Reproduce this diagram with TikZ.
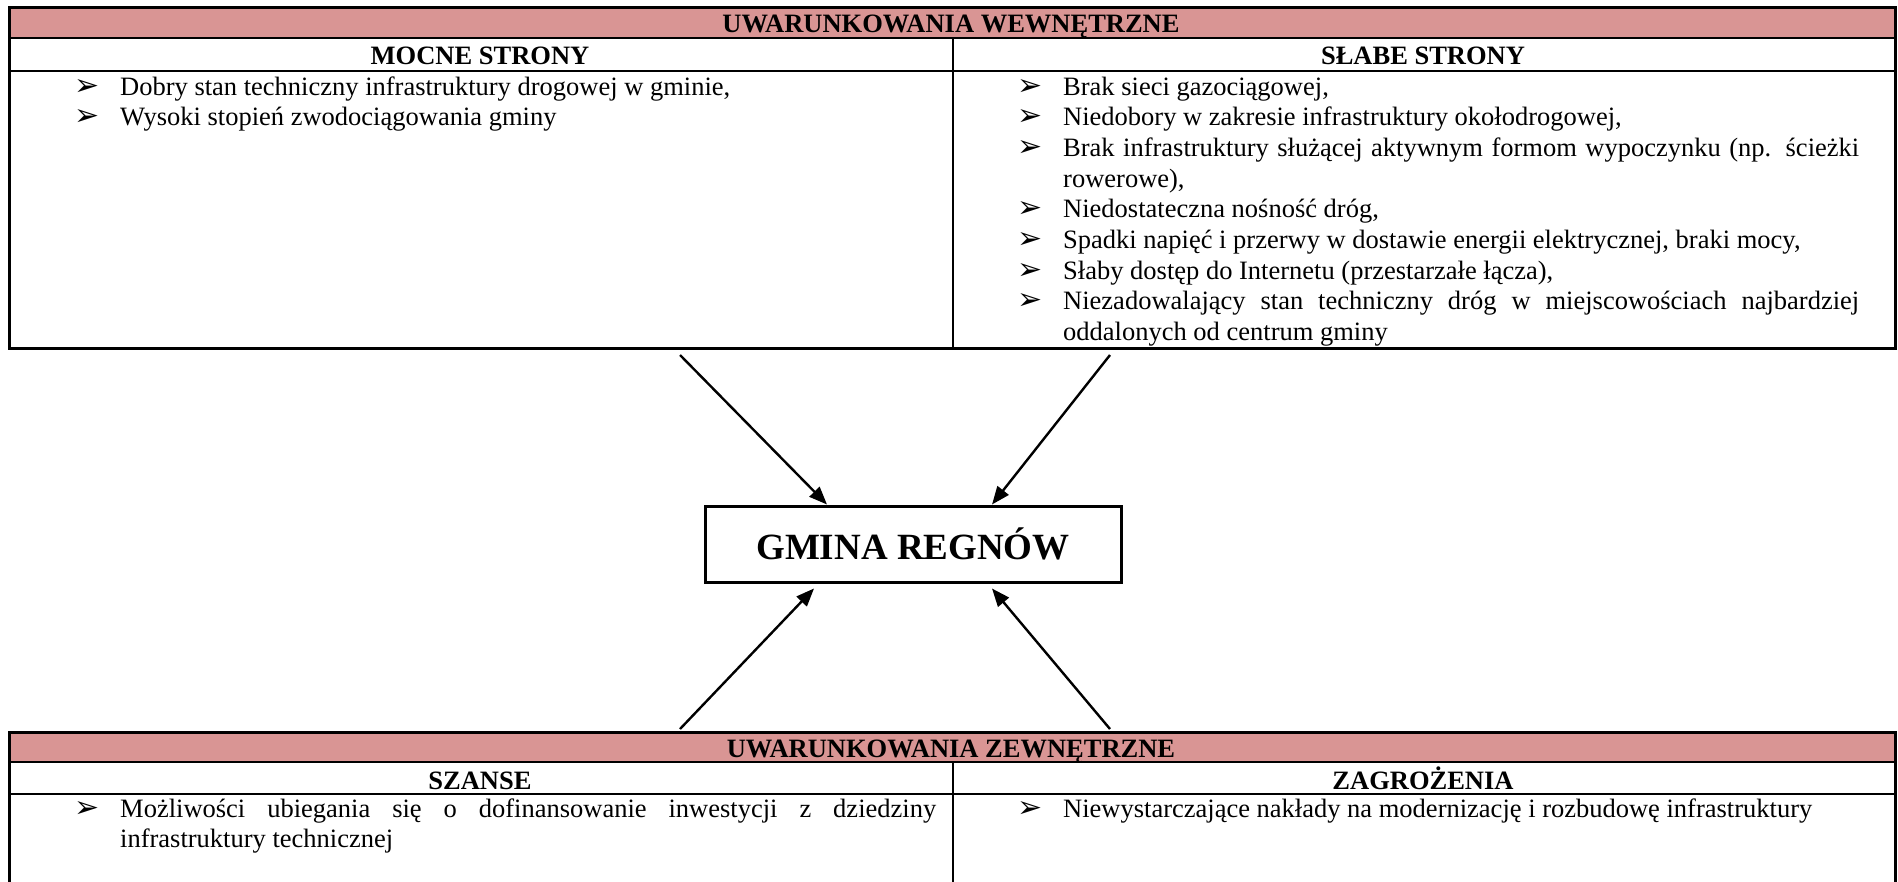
\documentclass[tikz,border=0pt]{standalone}
\usepackage{fontspec}
\setmainfont{Liberation Serif}
\newfontfamily\grotfont{DejaVu Sans}
\usetikzlibrary{arrows.meta}
\definecolor{rozowy}{HTML}{D99594}
\hyphenpenalty=10000
\tolerance=9000
\newcommand{\rozmiar}{\fontsize{26.5}{30.7}\selectfont}
\newcommand{\punkt}{\noindent\llap{\makebox[46pt][l]{\grotfont\fontsize{30}{30}\selectfont ➢}}}

\begin{document}
\begin{tikzpicture}[x=1pt, y=-1pt,
  ramka/.style={draw, line width=2.5pt, inner sep=0pt, anchor=north west},
  naglowek/.style={anchor=base, inner sep=0pt, font=\rozmiar\bfseries},
  lista/.style={anchor=base west, inner sep=0pt, align=justify, font=\rozmiar},
  strzalka/.style={-{Triangle[length=18pt,width=14pt]}, line width=2.4pt}]
  \useasboundingbox (0,0) rectangle (1898,881);

  % uwarunkowania wewnetrzne
  \fill[rozowy] (8,6) rectangle (1894,38);
  \draw[line width=2.5pt] (8,38) -- (1894,38);
  \draw[line width=1.5pt] (8,71) -- (1894,71);
  \draw[line width=1.5pt] (953,38) -- (953,347);
  \node[ramka, minimum width=1886pt, minimum height=341pt] (wew) at (8,6) {};
  \node[naglowek] (wewTytul) at (951,32) {UWARUNKOWANIA WEWNĘTRZNE};
  \node[naglowek] (mocne) at (480,64) {MOCNE STRONY};
  \node[naglowek] (slabe) at (1423,64) {SŁABE STRONY};
  \node[lista, text width=816pt] (mocneLista) at (120,95) {%
    \punkt Dobry stan techniczny infrastruktury drogowej w gminie,\par
    \punkt Wysoki stopień zwodociągowania gminy};
  \node[lista, text width=796pt] (slabeLista) at (1063,95) {%
    \punkt Brak sieci gazociągowej,\par
    \punkt Niedobory w zakresie infrastruktury okołodrogowej,\par
    \punkt Brak infrastruktury służącej aktywnym formom wypoczynku (np. ścieżki\linebreak rowerowe),\par
    \punkt Niedostateczna nośność dróg,\par
    \punkt Spadki napięć i przerwy w dostawie energii elektrycznej, braki mocy,\par
    \punkt Słaby dostęp do Internetu (przestarzałe łącza),\par
    \punkt Niezadowalający stan techniczny dróg w miejscowościach najbardziej\linebreak oddalonych od centrum gminy};

  % uwarunkowania zewnetrzne
  \fill[rozowy] (8,731) rectangle (1894,762);
  \draw[line width=2.5pt] (8,762) -- (1894,762);
  \draw[line width=1.5pt] (8,794) -- (1894,794);
  \draw[line width=1.5pt] (953,762) -- (953,900);
  \node[ramka, minimum width=1886pt, minimum height=169pt] (zew) at (8,731) {};
  \node[naglowek] (zewTytul) at (951,757) {UWARUNKOWANIA ZEWNĘTRZNE};
  \node[naglowek] (szanse) at (480,789) {SZANSE};
  \node[naglowek] (zagrozenia) at (1423,789) {ZAGROŻENIA};
  \node[lista, text width=816pt] (szanseLista) at (120,817) {%
    \punkt Możliwości ubiegania się o dofinansowanie inwestycji z dziedziny\linebreak infrastruktury technicznej};
  \node[lista, text width=796pt] (zagrozeniaLista) at (1063,817) {%
    \punkt Niewystarczające nakłady na modernizację i rozbudowę infrastruktury};

  \node[draw, line width=3pt, minimum width=416pt, minimum height=76pt,
    font=\fontsize{37}{41}\selectfont\bfseries] (gmina) at (913,544) {GMINA REGNÓW};

  \coordinate (wewL) at (680,355);
  \coordinate (wewP) at (1110,355);
  \coordinate (zewL) at (680,729);
  \coordinate (zewP) at (1110,729);
  \draw[strzalka] (wewL) -- ([xshift=-86pt]gmina.north);
  \draw[strzalka] (wewP) -- ([xshift=79pt]gmina.north);
  \draw[strzalka] (zewL) -- ([xshift=-99pt,yshift=-5pt]gmina.south);
  \draw[strzalka] (zewP) -- ([xshift=79pt,yshift=-5pt]gmina.south);
\end{tikzpicture}
\end{document}
